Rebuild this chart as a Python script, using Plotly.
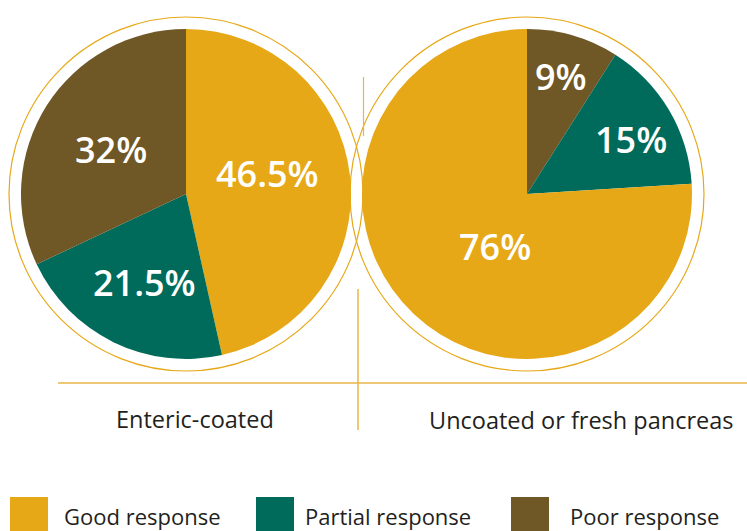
import math
import plotly.graph_objects as go

# ---------------- data ----------------
categories = ["Good response", "Partial response", "Poor response"]
colors = {"Good response": "#E6A817", "Partial response": "#006B5A", "Poor response": "#6F5726"}

chart_titles = ["Enteric-coated", "Uncoated or fresh pancreas"]
enteric_labels = ["Good response", "Partial response", "Poor response"]
enteric_values = [46.5, 21.5, 32]
uncoated_labels = ["Poor response", "Partial response", "Good response"]
uncoated_values = [9, 15, 76]

# ---------------- style / layout (pixels) ----------------
W, H = 747, 531
GOLD = "#E6A817"
LINE_GOLD = "#EAB64A"
TEXT_DARK = "#231F20"
pie_centers = [(186, 194), (527, 194)]
PIE_R = 165
RING_R = 177
label_r_frac = [[0.51, 0.59, 0.53], [0.74, 0.71, 0.375]]
label_angle_offset = [[-8, -1, -2], [0, 3, -12]]  # degrees from slice mid-angle
title_pos = [(195, 419), (581, 420)]
legend_sq_x = [10, 256, 511]
legend_txt_x = [62, 303, 568]
legend_y = 516
SQ_W, SQ_TOP = 38, 497


def px(x):
    return x / W


def py(y):
    return 1 - y / H


fig = go.Figure()
annotations = []
shapes = []

series = [(enteric_labels, enteric_values), (uncoated_labels, uncoated_values)]
for i, (labels, values) in enumerate(series):
    cx, cy = pie_centers[i]
    fig.add_trace(go.Pie(
        labels=labels, values=values, sort=False, direction="clockwise", rotation=0,
        marker=dict(colors=[colors[l] for l in labels], line=dict(width=0)),
        textinfo="none", hoverinfo="label+percent", showlegend=False,
        domain=dict(x=[px(cx - PIE_R), px(cx + PIE_R)], y=[py(cy + PIE_R), py(cy - PIE_R)]),
    ))
    total = sum(values)
    cum = 0
    for j, v in enumerate(values):
        mid = (cum + v / 2) / total * 2 * math.pi + math.radians(label_angle_offset[i][j])
        cum += v
        rr = label_r_frac[i][j] * PIE_R
        lx = cx + rr * math.sin(mid)
        ly = cy - rr * math.cos(mid)
        annotations.append(dict(
            x=px(lx), y=py(ly), xref="paper", yref="paper", showarrow=False,
            text=f"{v:g}%", xanchor="center", yanchor="middle",
            font=dict(family="Open Sans", size=36, color="white", weight=600),
        ))
    shapes.append(dict(
        type="circle", xref="paper", yref="paper",
        x0=px(cx - RING_R), x1=px(cx + RING_R), y0=py(cy + RING_R), y1=py(cy - RING_R),
        line=dict(color=GOLD, width=1.2), layer="below",
    ))
    tx, ty = title_pos[i]
    annotations.append(dict(
        x=px(tx), y=py(ty), xref="paper", yref="paper", showarrow=False,
        text=chart_titles[i], xanchor="center", yanchor="middle",
        font=dict(family="Open Sans", size=23.5, color=TEXT_DARK),
    ))

# divider lines
shapes.append(dict(type="line", xref="paper", yref="paper", x0=px(58), x1=px(747),
                   y0=py(383), y1=py(383), line=dict(color=LINE_GOLD, width=1.5)))
shapes.append(dict(type="line", xref="paper", yref="paper", x0=px(358), x1=px(358),
                   y0=py(289), y1=py(430), line=dict(color=LINE_GOLD, width=1.5)))
shapes.append(dict(type="line", xref="paper", yref="paper", x0=px(363.5), x1=px(363.5),
                   y0=py(77), y1=py(136), line=dict(color=LINE_GOLD, width=1.2)))

# legend
for k, cat in enumerate(categories):
    shapes.append(dict(type="rect", xref="paper", yref="paper",
                       x0=px(legend_sq_x[k]), x1=px(legend_sq_x[k] + SQ_W),
                       y0=py(H + 5), y1=py(SQ_TOP),
                       fillcolor=colors[cat], line=dict(width=0)))
    annotations.append(dict(
        x=px(legend_txt_x[k]), y=py(legend_y), xref="paper", yref="paper", showarrow=False,
        text=cat, xanchor="left", yanchor="middle",
        font=dict(family="Open Sans", size=22, color=TEXT_DARK),
    ))

fig.update_layout(
    width=W, height=H, margin=dict(l=0, r=0, t=0, b=0),
    paper_bgcolor="white", plot_bgcolor="white",
    shapes=shapes, annotations=annotations,
)

fig.write_html(
    "out.html",
    config={"displayModeBar": False},
    post_script="document.body.style.margin='0';document.body.style.overflow='hidden';",
)
